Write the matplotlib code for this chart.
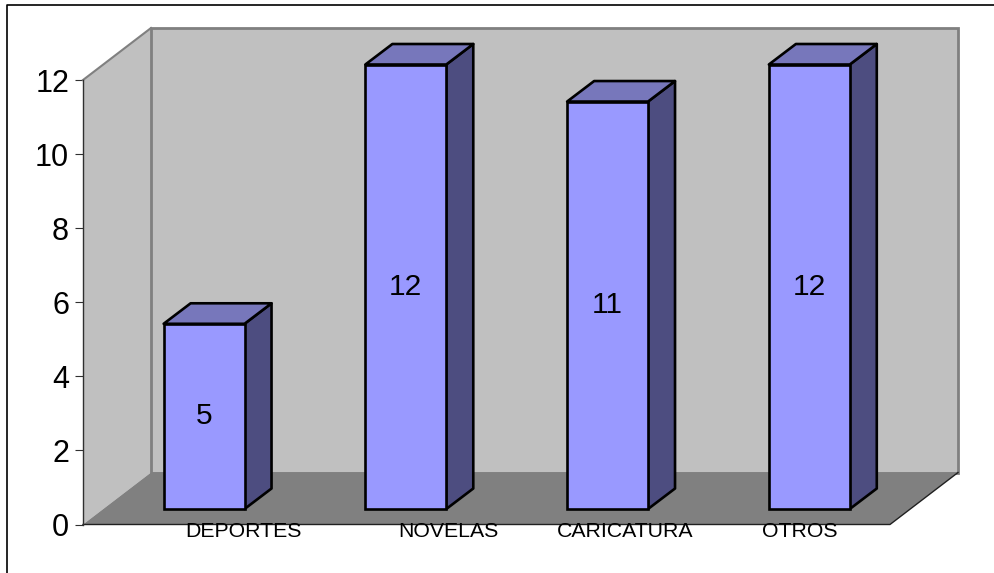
import matplotlib
matplotlib.use("Agg")
import matplotlib.pyplot as plt
from matplotlib.patches import Polygon
from matplotlib.transforms import Affine2D
from matplotlib.lines import Line2D

categories = ["DEPORTES", "NOVELAS", "CARICATURA", "OTROS"]
values = [5, 12, 11, 12]
y_ticks = [0, 2, 4, 6, 8, 10, 12]
label_centers_px = [243, 448, 625, 800]

W, H = 995, 573
plt.rcParams['font.family'] = ['Liberation Sans', 'DejaVu Sans']
fig = plt.figure(figsize=(W / 100, H / 100), dpi=100)
ax = fig.add_axes([83 / W, (H - 524.5) / H, 807 / W, 444.5 / H])
ax.set_xlim(-0.5, 3.5)
ax.set_ylim(0, 12)
for s in ax.spines.values():
    s.set_visible(False)
ax.patch.set_visible(False)


def off(dx, dy):
    return ax.transData + Affine2D().translate(dx, dy)


DX, DY = 68, 52      # wall depth in px
x0, x1 = -0.5, 3.5
ymax = 12
base = ax.transData.transform((x0, 0))
px = Affine2D().translate(*base)

# side wall, back wall, floor
side = [(0, 0), (DX, DY), (DX, DY + 444.5), (0, 444.5)]
ax.add_patch(Polygon(side, closed=True, fc="#C0C0C0", ec="none", transform=px, clip_on=False, zorder=1))
ax.add_patch(Polygon([(x0, 0), (x1, 0), (x1, ymax), (x0, ymax)], closed=True, fc="#C0C0C0",
                     ec="#808080", lw=2, transform=off(DX, DY), clip_on=False, zorder=1, joinstyle="miter"))
ax.add_line(Line2D([0, DX], [444.5, DY + 444.5], color="#808080", lw=1.5, transform=px, clip_on=False, zorder=2))
floor_px = [(0, 0), (807, 0), (807 + DX, DY), (DX, DY)]
ax.add_patch(Polygon(floor_px, closed=True, fc="#808080", ec="none", transform=px, clip_on=False, zorder=2))
ax.add_line(Line2D([0, 807, 807 + DX], [0, 0, DY], color="#202020", lw=1, transform=px, clip_on=False, zorder=3))
ax.add_line(Line2D([0, 0], [0, 444.5], color="#303030", lw=1, transform=px, clip_on=False, zorder=3))

# bars
fx, fy = 20.2, 15.5   # offset of bar front from front plane
bx, by = 27, 20.5     # bar depth
w = 0.401
y_per_px = 12 / 444.5
x_per_px = 4 / 807
front = off(fx, fy)
ax.bar(range(len(values)), values, width=w, color="#9999FF", edgecolor="black", linewidth=1.9,
       transform=front, zorder=6, clip_on=False)
for i, v in enumerate(values):
    l, r = i - w / 2, i + w / 2
    ddx, ddy = bx * x_per_px, by * y_per_px
    ax.add_patch(Polygon([(r, 0), (r + ddx, ddy), (r + ddx, v + ddy), (r, v)], closed=True,
                         fc="#4D4D80", ec="black", lw=1.9, transform=front, zorder=5,
                         clip_on=False, joinstyle="round"))
    ax.add_patch(Polygon([(l, v), (r, v), (r + ddx, v + ddy), (l + ddx, v + ddy)], closed=True,
                         fc="#7777BB", ec="black", lw=1.9, transform=front, zorder=5,
                         clip_on=False, joinstyle="round"))
    ax.text(i, v / 2, str(v), transform=front, ha="center", va="center", fontsize=21.5, color="black", zorder=7)

ax.set_xticks([])
ax.set_yticks(y_ticks)
ax.tick_params(axis="y", length=5.5, width=0.8, color="#303030", labelsize=22, pad=4.5)

# category labels, placed as in the original (not centred on bars)
for name, cx in zip(categories, label_centers_px):
    fig.text(cx / W, (H - 531.5) / H, name, ha="center", va="center", fontsize=15.3, color="black")

# chart frame
fig.add_artist(Line2D([7.5 / W, 7.5 / W, 1], [0, (H - 5) / H, (H - 5) / H], color="black", lw=1.2,
                      transform=fig.transFigure))
fig.savefig("out.png", dpi=100)
